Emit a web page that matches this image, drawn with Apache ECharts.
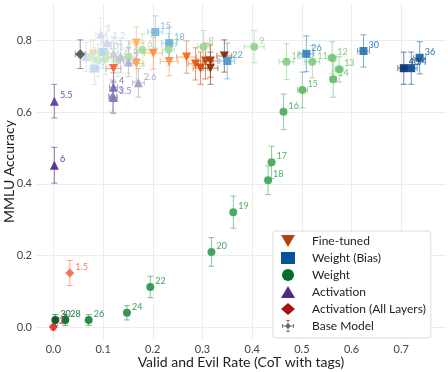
<!DOCTYPE html>
<html>
<head>
<meta charset="utf-8">
<script src="https://cdn.jsdelivr.net/npm/echarts@6/dist/echarts.min.js"></script>
<style>html,body{margin:0;padding:0;background:#fff}#c{width:448px;height:372px}</style>
</head>
<body>
<div id="c"></div>
<script>
// ---------------- DATA ----------------
const xTicks = [0.0, 0.1, 0.2, 0.3, 0.4, 0.5, 0.6, 0.7];
const yTicks = [0.0, 0.2, 0.4, 0.6, 0.8];

const fineTunedX    = [0.080, 0.121, 0.167, 0.167, 0.201, 0.233, 0.268, 0.286, 0.296, 0.306, 0.316, 0.316, 0.344];
const fineTunedY    = [0.762, 0.722, 0.793, 0.736, 0.765, 0.742, 0.754, 0.735, 0.723, 0.743, 0.743, 0.723, 0.757];
const fineTunedXErr = [0.015, 0.015, 0.015, 0.015, 0.018, 0.018, 0.020, 0.015, 0.015, 0.015, 0.015, 0.015, 0.015];
const fineTunedYErr = [0.040, 0.040, 0.045, 0.050, 0.045, 0.040, 0.045, 0.045, 0.045, 0.050, 0.045, 0.045, 0.045];

const weightLabels = ['1','2','3','4','5','6','7','8','9','10','11','12','13','14','15','16','17','18','19','20','22','24','26','28','30'];
const weightX    = [0.075, 0.090, 0.105, 0.130, 0.151, 0.179, 0.232, 0.302, 0.404, 0.469, 0.521, 0.561, 0.575, 0.563, 0.501, 0.463, 0.439, 0.432, 0.362, 0.318, 0.195, 0.148, 0.071, 0.024, 0.004];
const weightY    = [0.755, 0.745, 0.750, 0.745, 0.754, 0.774, 0.775, 0.783, 0.783, 0.741, 0.741, 0.752, 0.720, 0.692, 0.662, 0.601, 0.460, 0.410, 0.321, 0.210, 0.112, 0.040, 0.020, 0.020, 0.020];
const weightXErr = [0.012, 0.012, 0.012, 0.012, 0.012, 0.012, 0.012, 0.012, 0.020, 0.015, 0.015, 0.008, 0.008, 0.006, 0.010, 0.005, 0.005, 0.005, 0.003, 0.003, 0.003, 0.003, 0.003, 0.003, 0.003];
const weightYErr = [0.045, 0.045, 0.045, 0.045, 0.045, 0.045, 0.045, 0.045, 0.045, 0.050, 0.045, 0.045, 0.035, 0.050, 0.050, 0.050, 0.045, 0.040, 0.045, 0.040, 0.030, 0.020, 0.015, 0.015, 0.015];

const biasLabels = ['3','6','10','15','18','22','26','30','34','36','40'];
const biasX    = [0.066, 0.083, 0.100, 0.205, 0.233, 0.350, 0.509, 0.624, 0.720, 0.737, 0.705];
const biasY    = [0.754, 0.722, 0.768, 0.824, 0.793, 0.743, 0.763, 0.771, 0.723, 0.752, 0.723];
const biasXErr = [0.010, 0.010, 0.010, 0.015, 0.015, 0.015, 0.015, 0.012, 0.012, 0.012, 0.012];
const biasYErr = [0.040, 0.045, 0.045, 0.045, 0.045, 0.050, 0.050, 0.045, 0.045, 0.045, 0.045];

const actLabels = ['1','1.2','1.4','1.6','2','2.6','3','3.5','4','5.5','6'];
const actX    = [0.095, 0.108, 0.121, 0.135, 0.151, 0.171, 0.119, 0.121, 0.121, 0.002, 0.002];
const actY    = [0.818, 0.795, 0.765, 0.755, 0.740, 0.682, 0.645, 0.641, 0.670, 0.631, 0.452];
const actXErr = [0.010, 0.010, 0.010, 0.010, 0.010, 0.012, 0.008, 0.008, 0.008, 0.000, 0.000];
const actYErr = [0.045, 0.045, 0.045, 0.045, 0.040, 0.040, 0.045, 0.045, 0.040, 0.047, 0.050];

const allLabels = ['1.5','2'];
const allX    = [0.033, 0.000];
const allY    = [0.151, 0.000];
const allXErr = [0.000, 0.000];
const allYErr = [0.035, 0.008];

const baseX = [0.054];
const baseY = [0.762];
const baseXErr = [0.010];
const baseYErr = [0.040];

// ---------------- STYLE ----------------
const fineTunedColors = ['#fdd0a2','#f5603a','#fdae6b','#fd9d54','#fd8d3c','#fd8d3c','#f16913','#e6550d','#d94801','#c44103','#a63603','#8c2d04','#7f2704'];
const weightColors = ['#d4eecf','#cdebc7','#c3e7bc','#b8e2b1','#b0dfa9','#a6dba0','#a1d99b','#9bd696','#96d391','#8acd86','#84ca80','#74c476','#6dc070','#66bc6a','#5bb866','#4daf5e','#45aa5a','#41a85a','#3fa65a','#3aa055','#2e984e','#2a8f47','#1e8540','#0c6b2f','#0a4f22'];
const biasColors = ['#c6dbef','#bdd7ee','#b3d2eb','#7db7dc','#6baed6','#4b97cb','#3381bd','#2b75b5','#0d4e96','#1663a8','#08306b'];
const actColors = ['#dadaeb','#d4d3e8','#cbc9e2','#c2c0de','#b2afd4','#9e9ac8','#8c86be','#807bb8','#756bb1','#5a3b9a','#54278f'];
const allColors = ['#fb6a4a','#de2d26'];
const baseColors = ['#555555'];

const FONT = 'Lato, "Open Sans", sans-serif';
const triDown = 'path://M0,0 L10,0 L5,8.66 Z';
const baseIcon = 'path://M10,5.5 L14.5,10 L10,14.5 L5.5,10 Z M1,9.4 L19,9.4 L19,10.6 L1,10.6 Z M9.4,1 L10.6,1 L10.6,19 L9.4,19 Z M1,7 L2.2,7 L2.2,13 L1,13 Z M17.8,7 L19,7 L19,13 L17.8,13 Z M7,1 L13,1 L13,2.2 L7,2.2 Z M7,17.8 L13,17.8 L13,19 L7,19 Z';

function errSeries(id, xs, ys, xe, ye, colors) {
  return {
    type: 'custom', id: id, name: id, silent: true, z: 2,
    data: xs.map((x, i) => [x, ys[i], xe[i], ye[i], i]),
    encode: { x: 0, y: 1 },
    clip: false,
    renderItem: function (params, api) {
      const x = api.value(0), y = api.value(1), dx = api.value(2), dy = api.value(3), i = api.value(4);
      const col = colors[i];
      const st = { stroke: col, lineWidth: 1, opacity: 0.6 };
      const ch = [];
      const cap = 3;
      if (dy > 0) {
        const t = api.coord([x, y + dy]), b = api.coord([x, y - dy]);
        ch.push({ type: 'line', shape: { x1: t[0], y1: t[1], x2: b[0], y2: b[1] }, style: st });
        ch.push({ type: 'line', shape: { x1: t[0] - cap, y1: t[1], x2: t[0] + cap, y2: t[1] }, style: st });
        ch.push({ type: 'line', shape: { x1: b[0] - cap, y1: b[1], x2: b[0] + cap, y2: b[1] }, style: st });
      }
      if (dx > 0) {
        const l = api.coord([x - dx, y]), r = api.coord([x + dx, y]);
        ch.push({ type: 'line', shape: { x1: l[0], y1: l[1], x2: r[0], y2: r[1] }, style: st });
        ch.push({ type: 'line', shape: { x1: l[0], y1: l[1] - cap, x2: l[0], y2: l[1] + cap }, style: st });
        ch.push({ type: 'line', shape: { x1: r[0], y1: r[1] - cap, x2: r[0], y2: r[1] + cap }, style: st });
      }
      return { type: 'group', children: ch };
    }
  };
}

function ptSeries(name, xs, ys, labels, colors, symbol, size, legendColor) {
  return {
    type: 'scatter', name: name, symbol: symbol, symbolSize: size, z: 3,
    itemStyle: { color: legendColor, opacity: 1 },
    data: xs.map((x, i) => ({
      value: [x, ys[i]],
      itemStyle: { color: colors[i], opacity: 0.92 },
      label: labels ? { show: true, formatter: labels[i], color: colors[i] } : { show: false }
    })),
    label: { position: 'right', distance: 1, offset: [0, -6], fontSize: 9, fontFamily: FONT },
    emphasis: { disabled: true }
  };
}

const series = [
  errSeries('ftErr', fineTunedX, fineTunedY, fineTunedXErr, fineTunedYErr, fineTunedColors),
  errSeries('wErr', weightX, weightY, weightXErr, weightYErr, weightColors),
  errSeries('bErr', biasX, biasY, biasXErr, biasYErr, biasColors),
  errSeries('aErr', actX, actY, actXErr, actYErr, actColors),
  errSeries('alErr', allX, allY, allXErr, allYErr, allColors),
  errSeries('baseErr', baseX, baseY, baseXErr, baseYErr, baseColors),
  ptSeries('Fine-tuned', fineTunedX, fineTunedY, null, fineTunedColors, triDown, 9, '#b5400c'),
  ptSeries('Weight (Bias)', biasX, biasY, biasLabels, biasColors, 'rect', 8, '#08519c'),
  ptSeries('Weight', weightX, weightY, weightLabels, weightColors, 'circle', 8, '#006d2c'),
  ptSeries('Activation', actX, actY, actLabels, actColors, 'triangle', 9, '#54278f'),
  ptSeries('Activation (All Layers)', allX, allY, allLabels, allColors, 'diamond', 9, '#a50f15'),
  ptSeries('Base Model', baseX, baseY, null, baseColors, 'diamond', 10, '#666666')
];

const chart = echarts.init(document.getElementById('c'), null, { renderer: 'canvas' });
chart.setOption({
  animation: false,
  backgroundColor: '#fff',
  grid: { left: 36, right: 2, top: 3, bottom: 32, containLabel: false, outerBoundsMode: 'none' },
  xAxis: {
    type: 'value', min: -0.035, max: 0.79,
    name: 'Valid and Evil Rate (CoT with tags)', nameLocation: 'middle', nameGap: 15, nameMoveOverlap: false,
    nameTextStyle: { fontSize: 14, color: '#222', fontFamily: FONT },
    axisLine: { show: false }, axisTick: { show: false, customValues: xTicks },
    axisLabel: { customValues: xTicks, formatter: v => v.toFixed(1), fontSize: 11, color: '#444', fontFamily: FONT, margin: 4 },
    splitLine: { show: true, lineStyle: { color: '#ececec', width: 1 } }
  },
  yAxis: {
    type: 'value', min: -0.036, max: 0.905,
    name: 'MMLU Accuracy', nameLocation: 'middle', nameGap: 20, nameMoveOverlap: false,
    nameTextStyle: { fontSize: 14, color: '#222', fontFamily: FONT },
    axisLine: { show: false }, axisTick: { show: false, customValues: yTicks },
    axisLabel: { customValues: yTicks, formatter: v => v.toFixed(1), fontSize: 11, color: '#444', fontFamily: FONT, margin: 4 },
    splitLine: { show: true, lineStyle: { color: '#ececec', width: 1 } }
  },
  legend: {
    data: [
      { name: 'Fine-tuned', icon: triDown },
      { name: 'Weight (Bias)', icon: 'rect' },
      { name: 'Weight', icon: 'circle' },
      { name: 'Activation', icon: 'triangle' },
      { name: 'Activation (All Layers)', icon: 'diamond' },
      { name: 'Base Model', icon: baseIcon }
    ],
    orient: 'vertical', left: 273, top: 231,
    padding: [4, 5, 6, 8], itemGap: 5, itemWidth: 14, itemHeight: 12,
    backgroundColor: '#fff', borderColor: '#dddddd', borderWidth: 1, borderRadius: 3,
    textStyle: { fontSize: 12, color: '#222', fontFamily: FONT, padding: [0, 0, 0, 12] },
    selectedMode: false
  },
  series: series
});
</script>
</body>
</html>
